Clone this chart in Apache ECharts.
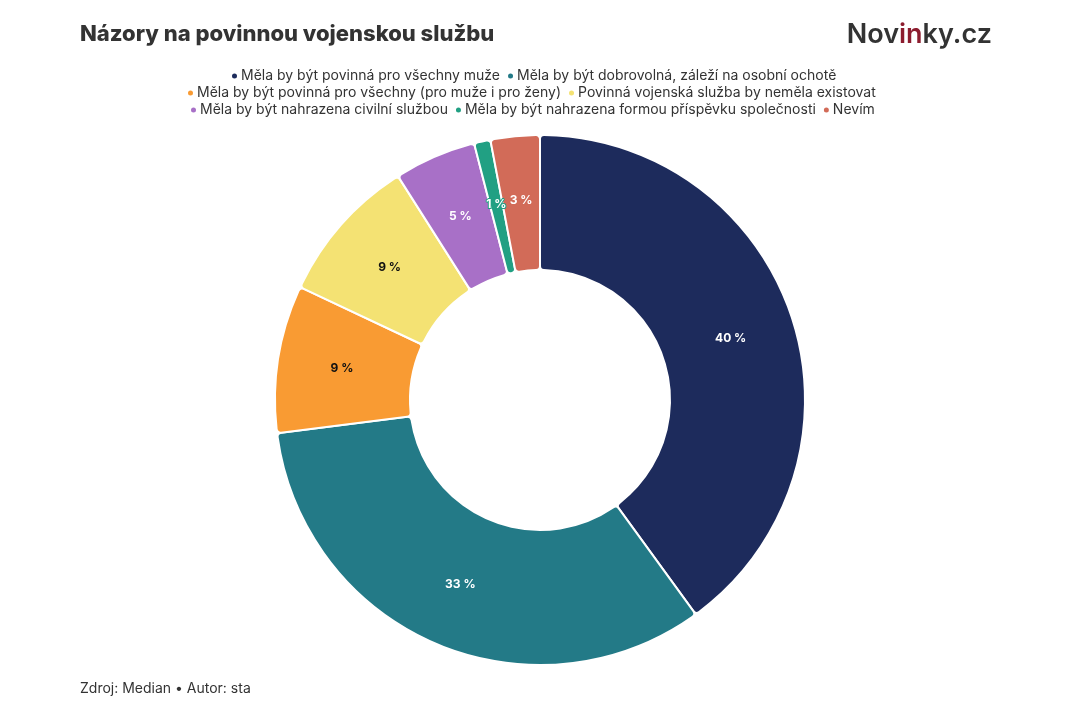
<!DOCTYPE html>
<html>
<head>
<meta charset="utf-8">
<script src="https://cdn.jsdelivr.net/npm/echarts@6/dist/echarts.min.js"></script>
<style>
html,body{margin:0;padding:0;background:#fff;}
#c{width:1080px;height:720px;}
</style>
</head>
<body>
<div id="c"></div>
<script>
const categories = [
  'Měla by být povinná pro všechny muže',
  'Měla by být dobrovolná, záleží na osobní ochotě',
  'Měla by být povinná pro všechny (pro muže i pro ženy)',
  'Povinná vojenská služba by neměla existovat',
  'Měla by být nahrazena civilní službou',
  'Měla by být nahrazena formou příspěvku společnosti',
  'Nevím'
];
const values = [40, 33, 9, 9, 5, 1, 3];
const colors = ['#1d2b5c', '#237a87', '#f99b33', '#f4e273', '#a870c7', '#21a083', '#d26b58'];
const labelColors = ['#fff', '#fff', '#111', '#111', '#fff', '#fff', '#fff'];

const chart = echarts.init(document.getElementById('c'));
const font = 'Inter, "Noto Sans", sans-serif';

const legendBase = {
  orient: 'horizontal',
  itemWidth: 7,
  itemHeight: 7,
  icon: 'circle',
  itemGap: 6,
  padding: 0,
  textStyle: { fontFamily: font, fontSize: 14, color: '#333', padding: [0, 0, 0, -2] },
  selectedMode: false
};

chart.setOption({
  color: colors,
  title: {
    text: 'Názory na povinnou vojenskou službu',
    left: 80,
    top: 23,
    padding: 0,
    textStyle: { fontFamily: font, fontSize: 22, fontWeight: 800, color: '#333' }
  },
  legend: [
    Object.assign({}, legendBase, { left: 230, top: 69, data: categories.slice(0, 2) }),
    Object.assign({}, legendBase, { left: 186, top: 86, data: categories.slice(2, 4) }),
    Object.assign({}, legendBase, { left: 189, top: 103, data: categories.slice(4, 7) })
  ],
  graphic: [
    {
      type: 'text',
      right: 88,
      top: 21,
      style: {
        text: '{a|Nov}{b|in}{a|ky.cz}',
        rich: {
          a: { fontFamily: font, fontSize: 27, fontWeight: 600, fill: '#333' },
          b: { fontFamily: font, fontSize: 27, fontWeight: 600, fill: '#8c1c2e' }
        }
      }
    },
    {
      type: 'text',
      left: 80,
      top: 682,
      style: { text: 'Zdroj: Median • Autor: sta', fontFamily: font, fontSize: 14, fill: '#333' }
    }
  ],
  series: [{
    type: 'pie',
    center: [540, 400],
    radius: [130, 265],
    startAngle: 90,
    clockwise: true,
    avoidLabelOverlap: false,
    itemStyle: { borderColor: '#fff', borderWidth: 2, borderRadius: 4 },
    label: {
      position: 'inside',
      formatter: '{c} %',
      fontFamily: font,
      fontSize: 12,
      fontWeight: 'bold'
    },
    labelLine: { show: false },
    emphasis: { disabled: true },
    data: categories.map((name, i) => ({
      name: name,
      value: values[i],
      label: { color: labelColors[i], textBorderColor: colors[i], textBorderWidth: 2 }
    }))
  }]
});
</script>
</body>
</html>
